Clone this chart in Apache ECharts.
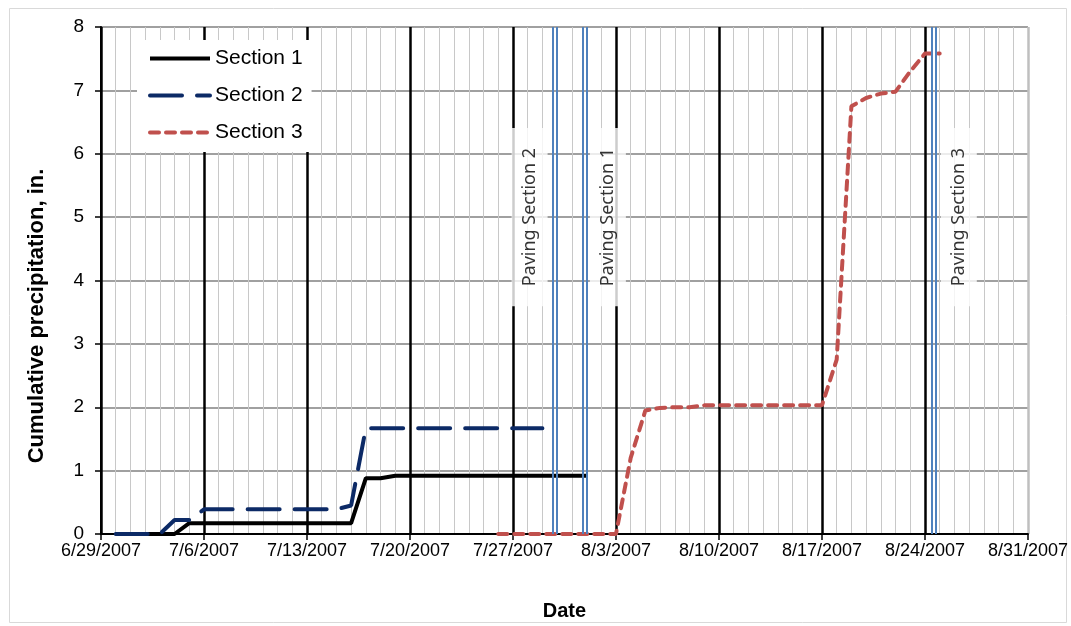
<!DOCTYPE html>
<html>
<head>
<meta charset="utf-8">
<script src="https://cdn.jsdelivr.net/npm/echarts@6/dist/echarts.min.js"></script>
<style>
  html, body { margin: 0; padding: 0; background: #fff; }
  #main { width: 1071px; height: 626px; }
</style>
</head>
<body>
<div id="main"></div>
<script>
// axis origin and daily cumulative values (one value per day from the start date)
var originDate = '2007-06-29';
var section1Start = '2007-06-30';
var section1Values = [0, 0, 0, 0, 0,
  0.17, 0.17, 0.17, 0.17, 0.17, 0.17, 0.17, 0.17, 0.17, 0.17, 0.17, 0.17,
  0.88, 0.88,
  0.92, 0.92, 0.92, 0.92, 0.92, 0.92, 0.92, 0.92, 0.92, 0.92, 0.92, 0.92, 0.92, 0.92];
var section2Start = '2007-06-30';
var section2Values = [0, 0, 0, 0,
  0.22, 0.22,
  0.39, 0.39, 0.39, 0.39, 0.39, 0.39, 0.39, 0.39, 0.39, 0.39,
  0.45,
  1.67, 1.67, 1.67, 1.67, 1.67, 1.67, 1.67, 1.67, 1.67, 1.67, 1.67, 1.67, 1.67];
var section3Start = '2007-07-26';
var section3Values = [0, 0, 0, 0, 0, 0, 0, 0, 0,
  1.2, 1.95, 1.99, 2.0, 2.0,
  2.03, 2.03, 2.03, 2.03, 2.03, 2.03, 2.03, 2.03, 2.03,
  2.75, 6.75, 6.88, 6.95, 6.98, 7.3, 7.58, 7.58];

// paving start/end times (vertical blue lines)
var pavingTimes = ['2007-07-29T16:30', '2007-07-29T23:00', '2007-07-31T17:00',
  '2007-08-01T00:30', '2007-08-24T11:00', '2007-08-24T18:00'];
var pavingLabels = ['Paving Section 2', 'Paving Section 1', 'Paving Section 3'];
var pavingLabelDays = [29.13, 34.45, 58.3];

var seriesNames = ['Section 1', 'Section 2', 'Section 3'];
var yTicks = [0, 1, 2, 3, 4, 5, 6, 7, 8];

var DAY = 86400000;
function dayOf(s) {
  var t = s.length > 10 ? s + ':00Z' : s + 'T00:00:00Z';
  return (Date.parse(t) - Date.parse(originDate + 'T00:00:00Z')) / DAY;
}
function toPoints(start, values) {
  var d0 = dayOf(start);
  return values.map(function (v, i) { return [d0 + i, v]; });
}
function dateLabel(v) {
  var d = new Date(Date.parse(originDate + 'T00:00:00Z') + v * DAY);
  return (d.getUTCMonth() + 1) + '/' + d.getUTCDate() + '/' + d.getUTCFullYear();
}

var font = 'Liberation Sans';
var chart = echarts.init(document.getElementById('main'));
var option = {
  animation: false,
  textStyle: { fontFamily: font },
  graphic: [{
    type: 'rect', left: 7, top: 6, z: -10,
    shape: { width: 1057, height: 614 },
    style: { fill: 'none', stroke: '#d9d9d9', lineWidth: 1 }
  }, {
    // y axis title
    type: 'text', x: 37, y: 316, rotation: Math.PI / 2,
    style: {
      text: 'Cumulative precipitation, in.', fontFamily: font, fontSize: 22, fontWeight: 'bold',
      fill: '#000', align: 'center', verticalAlign: 'middle'
    }
  }],
  grid: { left: 101, right: 42, top: 27, bottom: 86 },
  legend: {
    data: seriesNames,
    orient: 'vertical',
    left: 137, top: 40,
    padding: [8, 9, 9, 11],
    itemGap: 16,
    itemWidth: 60, itemHeight: 14,
    backgroundColor: '#fff',
    itemStyle: { opacity: 0 },
    lineStyle: { width: 4 },
    textStyle: { fontFamily: font, fontSize: 21, color: '#000' }
  },
  xAxis: {
    type: 'value',
    min: 0, max: 63, interval: 7,
    name: 'Date',
    nameLocation: 'middle',
    nameGap: 67,
    nameTextStyle: { fontFamily: font, fontSize: 20, fontWeight: 'bold', color: '#000' },
    axisLine: { lineStyle: { color: '#000', width: 2 } },
    axisTick: { show: true, length: 6, lineStyle: { color: '#000', width: 1.5 } },
    axisLabel: { formatter: dateLabel, fontFamily: font, fontSize: 18, color: '#000', margin: 8 },
    splitLine: { show: true, lineStyle: {
      color: ['#000', '#000', '#000', '#000', '#000', '#000', '#000', '#000', '#000', '#bfbfbf'],
      width: 2.5 } },
    minorTick: { show: false, splitNumber: 7 },
    minorSplitLine: { show: true, lineStyle: { color: '#c8c8c8', width: 1 } }
  },
  yAxis: {
    type: 'value',
    min: yTicks[0], max: yTicks[yTicks.length - 1], interval: 1,
    axisLine: { show: true, lineStyle: { color: '#000', width: 2 } },
    axisTick: { show: true, length: 6, lineStyle: { color: '#000', width: 1.5 } },
    axisLabel: { fontFamily: font, fontSize: 19, color: '#000', margin: 17 },
    splitLine: { show: true, lineStyle: { color: '#808080', width: 1.5 } }
  },
  series: [
    {
      name: seriesNames[0], type: 'line', symbol: 'none', z: 3,
      data: toPoints(section1Start, section1Values),
      itemStyle: { color: '#000' },
      lineStyle: { color: '#000', width: 4 }
    },
    {
      name: seriesNames[1], type: 'line', symbol: 'none', z: 4,
      data: toPoints(section2Start, section2Values),
      itemStyle: { color: '#0c2a66' },
      lineStyle: { color: '#0c2a66', width: 4, type: [32, 15], cap: 'round' }
    },
    {
      name: seriesNames[2], type: 'line', symbol: 'none', z: 4,
      data: toPoints(section3Start, section3Values),
      itemStyle: { color: '#c0504d' },
      lineStyle: { color: '#c0504d', width: 4, type: [9, 7], cap: 'round' }
    },
    {
      name: 'paving', type: 'scatter', symbolSize: 0, z: 5,
      data: pavingLabels.map(function (t, i) { return { name: t, value: [pavingLabelDays[i], 5.0] }; }),
      label: {
        show: true, position: 'inside', rotate: 90, formatter: '{b}',
        fontFamily: 'Noto Sans', fontSize: 18, color: '#000',
        backgroundColor: '#fff', padding: [9, 20, 9, 20]
      },
      markLine: {
        silent: true, symbol: 'none', label: { show: false },
        lineStyle: { color: '#4f81bd', width: 2, type: 'solid' },
        data: pavingTimes.map(function (t) { return { xAxis: dayOf(t) }; })
      }
    }
  ]
};
chart.setOption(option);
</script>
</body>
</html>
